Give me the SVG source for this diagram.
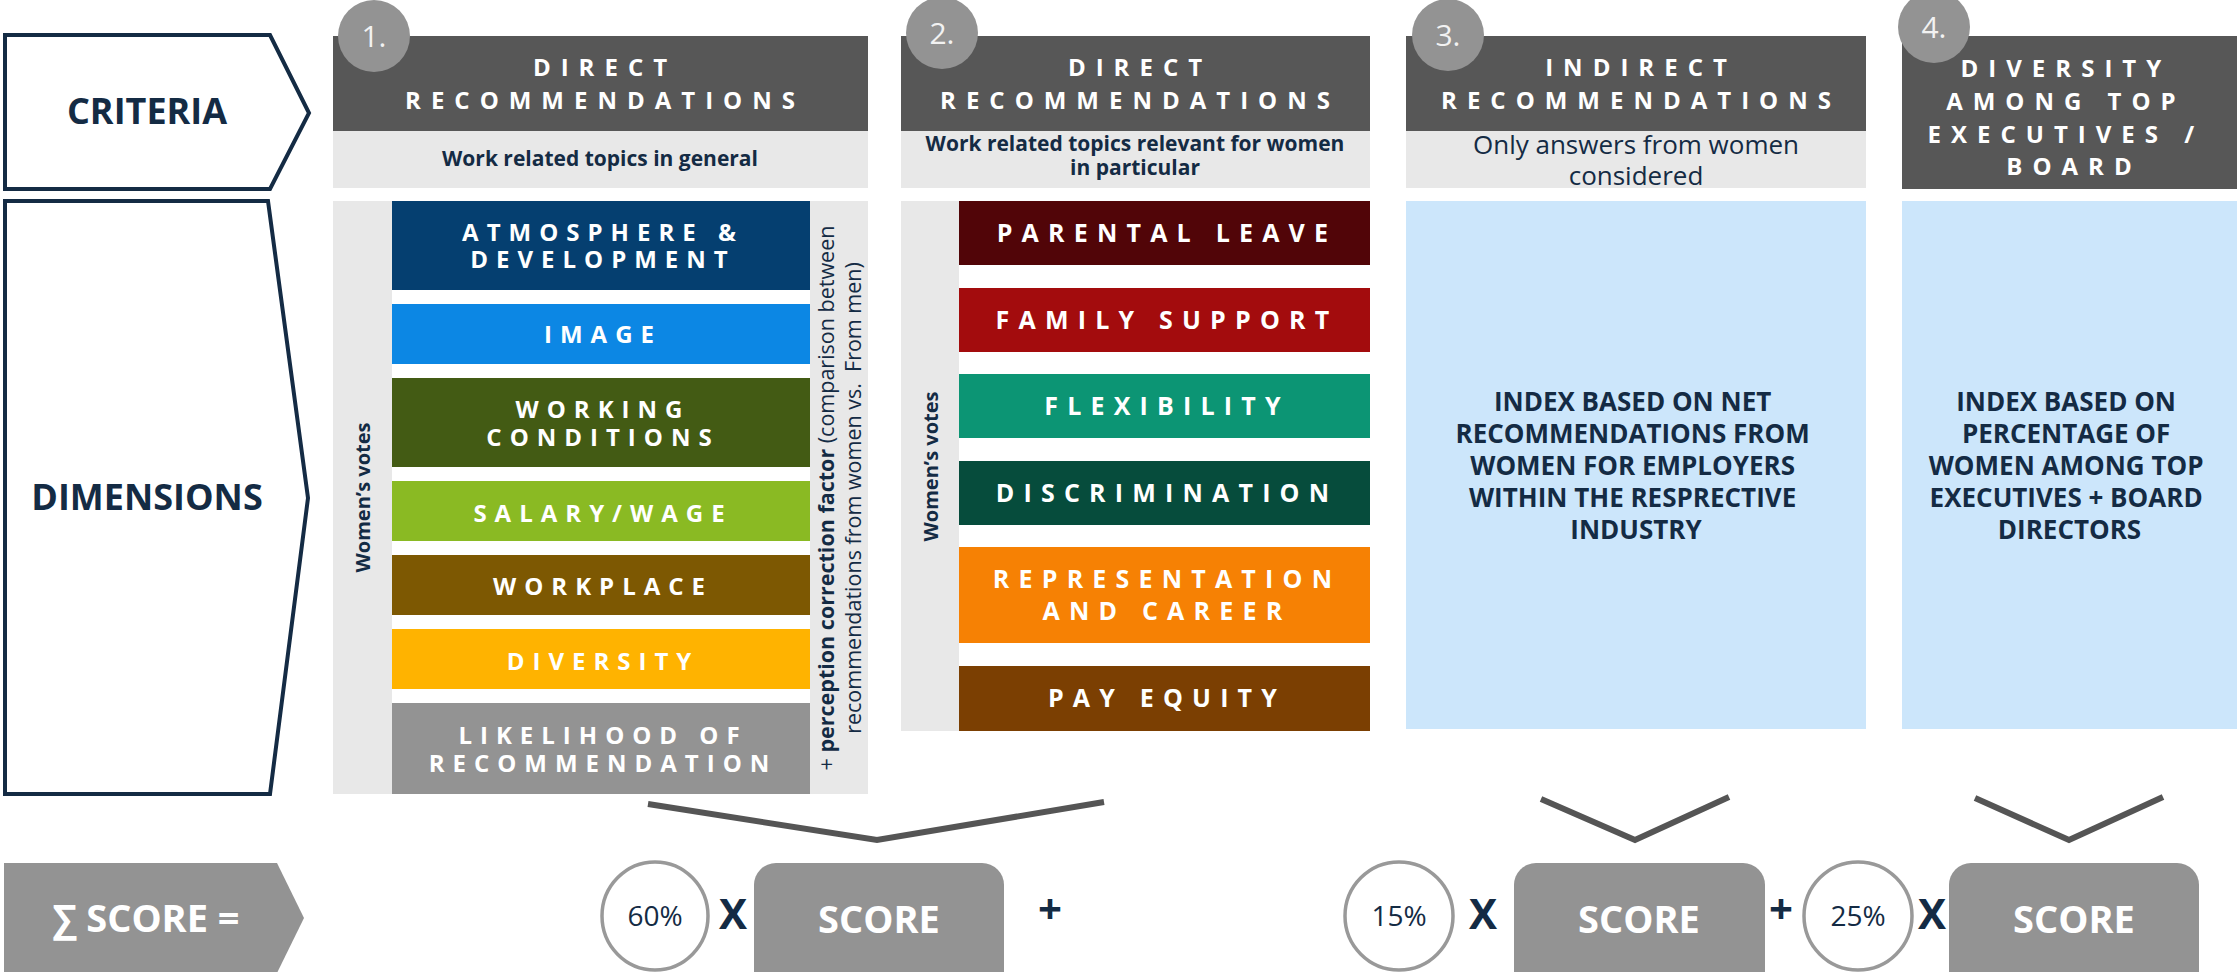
<svg xmlns="http://www.w3.org/2000/svg" width="2239" height="972" viewBox="0 0 2239 972">
  <style>
    .hdr { fill: #575757; }
    .sub { fill: #e8e8e8; }
    .idx { fill: #cce6fb; }
    .gry { fill: #939393; }
    .tag { fill: none; stroke: #142b44; stroke-width: 4; }
    .num { font-family: "Open Sans", "Liberation Sans", sans-serif; font-size: 30px; fill: #f2f2f2; text-anchor: middle; }
    .ht { font-family: "Open Sans", "Liberation Sans", sans-serif; font-weight: 700; font-size: 24px; letter-spacing: 10px; fill: #ffffff; text-anchor: middle; }
    .bt { font-family: "Open Sans", "Liberation Sans", sans-serif; font-weight: 700; font-size: 24px; letter-spacing: 8px; fill: #ffffff; text-anchor: middle; }
    .bt2 { font-family: "Open Sans", "Liberation Sans", sans-serif; font-weight: 700; font-size: 25px; letter-spacing: 9.2px; fill: #ffffff; text-anchor: middle; }
    .st { font-family: "Open Sans", "Liberation Sans", sans-serif; font-weight: 700; font-size: 21px; fill: #142b44; text-anchor: middle; }
    .st3 { font-family: "Open Sans", "Liberation Sans", sans-serif; font-size: 26px; fill: #142b44; text-anchor: middle; }
    .big { font-family: "Open Sans", "Liberation Sans", sans-serif; font-weight: 700; font-size: 36px; fill: #142b44; text-anchor: middle; }
    .ix { font-family: "Open Sans", "Liberation Sans", sans-serif; font-weight: 700; font-size: 26px; fill: #142b44; text-anchor: middle; }
    .vv { font-family: "Open Sans", "Liberation Sans", sans-serif; font-weight: 700; font-size: 20px; fill: #142b44; text-anchor: middle; }
    .pc { font-family: "Open Sans", "Liberation Sans", sans-serif; font-size: 21.5px; fill: #142b44; text-anchor: middle; }
    .pct { font-family: "Open Sans", "Liberation Sans", sans-serif; font-size: 28px; fill: #142b44; text-anchor: middle; }
    .op { font-family: "Open Sans", "Liberation Sans", sans-serif; font-weight: 700; font-size: 42px; fill: #142b44; text-anchor: middle; }
    .sc { font-family: "Open Sans", "Liberation Sans", sans-serif; font-weight: 700; font-size: 38px; fill: #ffffff; text-anchor: middle; }
    .ring { fill: #ffffff; stroke: #999999; stroke-width: 3.5; }
    .chev { fill: none; stroke: #555555; stroke-width: 6; stroke-linejoin: miter; }
  </style>

  <!-- row labels -->
  <g id="criteria">
    <polygon class="tag" points="5,35 270,35 309,113 270,189 5,189"/>
    <text class="big" x="147" y="124">CRITERIA</text>
  </g>
  <g id="dimensions">
    <polygon class="tag" points="5,201 268,201 308,498 270,794 5,794"/>
    <text class="big" x="147" y="510">DIMENSIONS</text>
  </g>
  <g id="total-score">
    <polygon class="gry" points="4,863 277,863 304,918 277,973 4,973"/>
    <text class="sc" x="146" y="932" font-size="33">∑ SCORE =</text>
  </g>

  <!-- column 1: direct recommendations, general topics -->
  <g id="col1">
    <rect class="hdr" x="333" y="36" width="535" height="95"/>
    <rect class="sub" x="333" y="131" width="535" height="57"/>
    <circle class="gry" cx="374" cy="36" r="36"/>
    <text class="num" x="374" y="47">1.</text>
    <text class="ht"><tspan x="605" y="76">DIRECT</tspan><tspan x="605" y="109">RECOMMENDATIONS</tspan></text>
    <text class="st" x="600" y="166">Work related topics in general</text>

    <rect class="sub" x="333" y="201" width="59" height="593"/>
    <rect class="sub" x="810" y="201" width="58" height="593"/>
    <text class="vv" transform="translate(362.5,497.5) rotate(-90)" y="7">Women’s votes</text>
    <text class="pc" transform="translate(834,498) rotate(-90)">+ <tspan font-weight="700">perception correction factor</tspan> (comparison between</text>
    <text class="pc" transform="translate(861,498) rotate(-90)" xml:space="preserve">recommendations from women vs.  From men)</text>

    <g id="atmosphere">
      <rect x="392" y="201" width="418" height="89" fill="#053f70"/>
      <text class="bt"><tspan x="603" y="240.5">ATMOSPHERE &amp;</tspan><tspan x="603" y="268">DEVELOPMENT</tspan></text>
    </g>
    <g id="image">
      <rect x="392" y="304" width="418" height="60" fill="#0c87e4"/>
      <text class="bt" x="603" y="343">IMAGE</text>
    </g>
    <g id="working-conditions">
      <rect x="392" y="378" width="418" height="89" fill="#435b14"/>
      <text class="bt"><tspan x="603" y="418">WORKING</tspan><tspan x="603" y="446">CONDITIONS</tspan></text>
    </g>
    <g id="salary">
      <rect x="392" y="481" width="418" height="60" fill="#8aba23"/>
      <text class="bt" x="603" y="522">SALARY/WAGE</text>
    </g>
    <g id="workplace">
      <rect x="392" y="555" width="418" height="60" fill="#7d5802"/>
      <text class="bt" x="603" y="595">WORKPLACE</text>
    </g>
    <g id="diversity">
      <rect x="392" y="629" width="418" height="60" fill="#ffb300"/>
      <text class="bt" x="603" y="670">DIVERSITY</text>
    </g>
    <g id="likelihood">
      <rect x="392" y="703" width="418" height="91" fill="#939393"/>
      <text class="bt"><tspan x="603" y="744">LIKELIHOOD OF</tspan><tspan x="603" y="772">RECOMMENDATION</tspan></text>
    </g>
  </g>

  <!-- column 2: direct recommendations, topics relevant for women -->
  <g id="col2">
    <rect class="hdr" x="901" y="36" width="469" height="95"/>
    <rect class="sub" x="901" y="131" width="469" height="57"/>
    <circle class="gry" cx="942" cy="33" r="36"/>
    <text class="num" x="942" y="44">2.</text>
    <text class="ht"><tspan x="1140" y="76">DIRECT</tspan><tspan x="1140" y="109">RECOMMENDATIONS</tspan></text>
    <text class="st"><tspan x="1135" y="151">Work related topics relevant for women</tspan><tspan x="1135" y="175">in particular</tspan></text>

    <rect class="sub" x="901" y="201" width="58" height="530"/>
    <text class="vv" transform="translate(930.5,466.5) rotate(-90)" y="7">Women’s votes</text>

    <g id="parental-leave">
      <rect x="959" y="201" width="411" height="64" fill="#510508"/>
      <text class="bt2" x="1167" y="242">PARENTAL LEAVE</text>
    </g>
    <g id="family-support">
      <rect x="959" y="288" width="411" height="64" fill="#a30c0d"/>
      <text class="bt2" x="1167" y="328.5">FAMILY SUPPORT</text>
    </g>
    <g id="flexibility">
      <rect x="959" y="374" width="411" height="64" fill="#0c9574"/>
      <text class="bt2" x="1167" y="415">FLEXIBILITY</text>
    </g>
    <g id="discrimination">
      <rect x="959" y="461" width="411" height="64" fill="#064c3c"/>
      <text class="bt2" x="1167" y="501.5">DISCRIMINATION</text>
    </g>
    <g id="representation">
      <rect x="959" y="547" width="411" height="96" fill="#f68104"/>
      <text class="bt2"><tspan x="1167" y="588">REPRESENTATION</tspan><tspan x="1167" y="620">AND CAREER</tspan></text>
    </g>
    <g id="pay-equity">
      <rect x="959" y="666" width="411" height="65" fill="#7b3f02"/>
      <text class="bt2" x="1167" y="707">PAY EQUITY</text>
    </g>
  </g>

  <!-- column 3: indirect recommendations -->
  <g id="col3">
    <rect class="hdr" x="1406" y="36" width="460" height="95"/>
    <rect class="sub" x="1406" y="131" width="460" height="57"/>
    <circle class="gry" cx="1448" cy="35" r="36"/>
    <text class="num" x="1448" y="46">3.</text>
    <text class="ht"><tspan x="1641" y="76">INDIRECT</tspan><tspan x="1641" y="109">RECOMMENDATIONS</tspan></text>
    <text class="st3"><tspan x="1636" y="154">Only answers from women</tspan><tspan x="1636" y="185">considered</tspan></text>
    <rect class="idx" x="1406" y="201" width="460" height="528"/>
    <text class="ix">
      <tspan x="1636" y="411">INDEX BASED ON NET</tspan>
      <tspan x="1636" y="443">RECOMMENDATIONS FROM</tspan>
      <tspan x="1636" y="475">WOMEN FOR EMPLOYERS</tspan>
      <tspan x="1636" y="507">WITHIN THE RESPRECTIVE</tspan>
      <tspan x="1636" y="539">INDUSTRY</tspan>
    </text>
  </g>

  <!-- column 4: diversity among top executives / board -->
  <g id="col4">
    <rect class="hdr" x="1902" y="36" width="335" height="153"/>
    <circle class="gry" cx="1934" cy="27" r="36"/>
    <text class="num" x="1934" y="38">4.</text>
    <text class="ht">
      <tspan x="2074" y="77">DIVERSITY</tspan>
      <tspan x="2074" y="110">AMONG TOP</tspan>
      <tspan x="2074" y="143">EXECUTIVES /</tspan>
      <tspan x="2074" y="175">BOARD</tspan>
    </text>
    <rect class="idx" x="1902" y="201" width="335" height="528"/>
    <text class="ix">
      <tspan x="2069.5" y="411">INDEX BASED ON</tspan>
      <tspan x="2069.5" y="443">PERCENTAGE OF</tspan>
      <tspan x="2069.5" y="475">WOMEN AMONG TOP</tspan>
      <tspan x="2069.5" y="507">EXECUTIVES + BOARD</tspan>
      <tspan x="2069.5" y="539">DIRECTORS</tspan>
    </text>
  </g>

  <!-- connectors funnelling each block into its score -->
  <g id="connectors">
    <polyline class="chev" points="648,804 877,840 1104,802"/>
    <polyline class="chev" points="1541,799 1635,840 1729,797"/>
    <polyline class="chev" points="1975,798 2069,840 2163,797"/>
  </g>

  <!-- weighted score formula -->
  <g id="term1">
    <ellipse class="ring" cx="655" cy="916" rx="53" ry="54"/>
    <text class="pct" x="655" y="926">60%</text>
    <text class="op" x="733" y="929">X</text>
    <rect class="gry" x="754" y="863" width="250" height="140" rx="22"/>
    <text class="sc" x="879" y="933">SCORE</text>
    <text class="op" x="1050" y="924">+</text>
  </g>
  <g id="term2">
    <ellipse class="ring" cx="1399" cy="916" rx="54" ry="54"/>
    <text class="pct" x="1399" y="926">15%</text>
    <text class="op" x="1483" y="929">X</text>
    <rect class="gry" x="1514" y="863" width="251" height="140" rx="22"/>
    <text class="sc" x="1639" y="933">SCORE</text>
    <text class="op" x="1781" y="924">+</text>
  </g>
  <g id="term3">
    <ellipse class="ring" cx="1858" cy="916" rx="54" ry="54"/>
    <text class="pct" x="1858" y="926">25%</text>
    <text class="op" x="1932" y="929">X</text>
    <rect class="gry" x="1949" y="863" width="250" height="140" rx="22"/>
    <text class="sc" x="2074" y="933">SCORE</text>
  </g>
</svg>
